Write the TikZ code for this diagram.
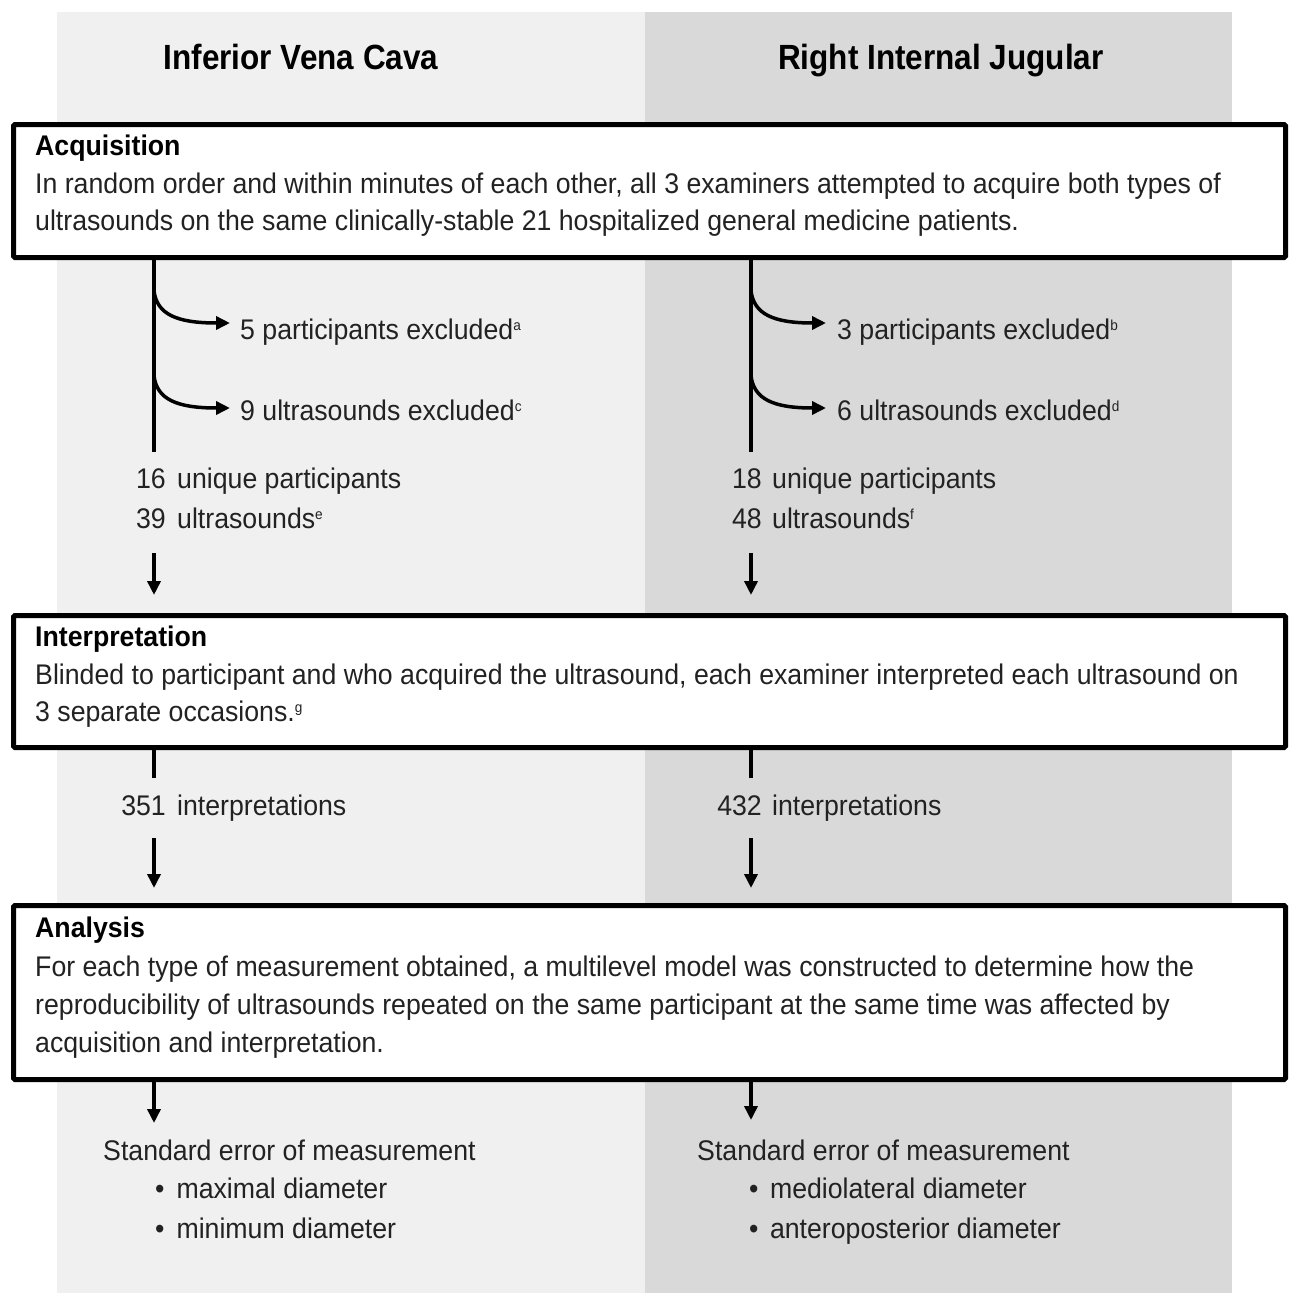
\documentclass[tikz,border=0pt]{standalone}
\usepackage{fontspec}
\setmainfont{Liberation Sans}[FakeStretch=0.94]
\newfontfamily\titlefont{Liberation Sans}[FakeStretch=0.9]
\usetikzlibrary{arrows.meta}
\definecolor{lbg}{HTML}{F0F0F0}
\definecolor{rbg}{HTML}{D9D9D9}
\definecolor{ink}{HTML}{222222}
\newcommand\sups[1]{\raisebox{8.5pt}{\fontsize{14.5}{14.5}\selectfont #1}}
\begin{document}
\begin{tikzpicture}[x=1pt,y=-1pt,
  txt/.style={anchor=base west, inner sep=0pt, text=ink, font=\fontsize{28.4}{32}\selectfont},
  hd/.style={anchor=base west, inner sep=0pt, text=black, font=\fontsize{28.4}{32}\selectfont\bfseries},
  num/.style={anchor=base east, inner sep=0pt, text=ink, font=\fontsize{28.4}{32}\selectfont},
  ttl/.style={anchor=base, inner sep=0pt, text=black, font=\titlefont\bfseries\fontsize{35}{40}\selectfont},
  panel/.style={draw=black, line width=5pt, fill=white, rounded corners=1.5pt, anchor=north west, minimum width=1272pt, inner sep=0pt},
  flow/.style={line width=3.5pt, draw=black},
  arr/.style={flow, -{Triangle[length=14pt,width=13pt]}},
]
\path[use as bounding box] (0,0) rectangle (1291,1293);
% column backgrounds
\fill[lbg] (57,12) rectangle (645,1293);
\fill[rbg] (645,12) rectangle (1232,1293);

% titles
\node[ttl] (t1) at (301,69) {Inferior Vena Cava};
\node[ttl] (t2) at (941,69) {Right Internal Jugular};

% panels
\node[panel, minimum height=133pt] (acq) at (11,122) {};
\node[panel, minimum height=132pt] (interp) at (11,613) {};
\node[panel, minimum height=174pt] (anal) at (11,903) {};

% panel texts
\node[hd] (acqh) at (35,155) {Acquisition};
\node[txt] (acq1) at (35,193) {In random order and within minutes of each other, all 3 examiners attempted to acquire both types of};
\node[txt] (acq2) at (35,230) {ultrasounds on the same clinically-stable 21 hospitalized general medicine patients.};

\node[hd] (inth) at (35,646) {Interpretation};
\node[txt] (int1) at (35,684) {Blinded to participant and who acquired the ultrasound, each examiner interpreted each ultrasound on};
\node[txt] (int2) at (35,721) {3 separate occasions.\sups{g}};

\node[hd] (anh) at (35,937) {Analysis};
\node[txt] (an1) at (35,976) {For each type of measurement obtained, a multilevel model was constructed to determine how the};
\node[txt] (an2) at (35,1014) {reproducibility of ultrasounds repeated on the same participant at the same time was affected by};
\node[txt] (an3) at (35,1052) {acquisition and interpretation.};

% column x positions
\coordinate (L) at (154,0);
\coordinate (R) at (751,0);

% ---- left column ----
\coordinate (Ltrunk) at (154,452);
\draw[flow] (acq.south -| L) -- (Ltrunk);
\coordinate (Lb1) at (154,291);
\coordinate (Lb2) at (154,376);
\coordinate (Lt1) at (230,323);
\coordinate (Lt2) at (230,408);
\draw[arr] (Lb1) .. controls (157,314) and (176,323) .. (Lt1);
\draw[arr] (Lb2) .. controls (157,399) and (176,408) .. (Lt2);
\node[txt] (lx1) at (240,339) {5 participants excluded\sups{a}};
\node[txt] (lx2) at (240,420) {9 ultrasounds excluded\sups{c}};
\node[num] (ln1) at (166,488) {16};
\node[txt] (lu1) at (177,488) {unique participants};
\node[num] (ln2) at (166,528) {39};
\node[txt] (lu2) at (177,528) {ultrasounds\sups{e}};
\coordinate (La1) at (154,553);
\draw[arr] (La1) -- ([yshift=18pt]interp.north -| L);
\coordinate (Lstub) at (154,778);
\draw[flow] (interp.south -| L) -- (Lstub);
\node[num] (ln3) at (166,815) {351};
\node[txt] (lu3) at (177,815) {interpretations};
\coordinate (La2) at (154,838);
\draw[arr] (La2) -- ([yshift=15pt]anal.north -| L);
\coordinate (La3) at (154,1123);
\draw[arr] (anal.south -| L) -- (La3);
\node[txt] (ls) at (103,1160) {Standard error of measurement};
\node[txt] (lsb1) at (155,1198) {•\hspace{12pt}maximal diameter};
\node[txt] (lsb2) at (155,1238) {•\hspace{12pt}minimum diameter};

% ---- right column ----
\coordinate (Rtrunk) at (751,452);
\draw[flow] (acq.south -| R) -- (Rtrunk);
\coordinate (Rb1) at (751,291);
\coordinate (Rb2) at (751,376);
\coordinate (Rt1) at (826,323);
\coordinate (Rt2) at (826,408);
\draw[arr] (Rb1) .. controls (754,314) and (773,323) .. (Rt1);
\draw[arr] (Rb2) .. controls (754,399) and (773,408) .. (Rt2);
\node[txt] (rx1) at (837,339) {3 participants excluded\sups{b}};
\node[txt] (rx2) at (837,420) {6 ultrasounds excluded\sups{d}};
\node[num] (rn1) at (762,488) {18};
\node[txt] (ru1) at (772,488) {unique participants};
\node[num] (rn2) at (762,528) {48};
\node[txt] (ru2) at (772,528) {ultrasounds\sups{f}};
\coordinate (Ra1) at (751,553);
\draw[arr] (Ra1) -- ([yshift=18pt]interp.north -| R);
\coordinate (Rstub) at (751,778);
\draw[flow] (interp.south -| R) -- (Rstub);
\node[num] (rn3) at (762,815) {432};
\node[txt] (ru3) at (772,815) {interpretations};
\coordinate (Ra2) at (751,838);
\draw[arr] (Ra2) -- ([yshift=15pt]anal.north -| R);
\coordinate (Ra3) at (751,1120);
\draw[arr] (anal.south -| R) -- (Ra3);
\node[txt] (rs) at (697,1160) {Standard error of measurement};
\node[txt] (rsb1) at (749,1198) {•\hspace{11.5pt}mediolateral diameter};
\node[txt] (rsb2) at (749,1238) {•\hspace{11.5pt}anteroposterior diameter};
\end{tikzpicture}
\end{document}
